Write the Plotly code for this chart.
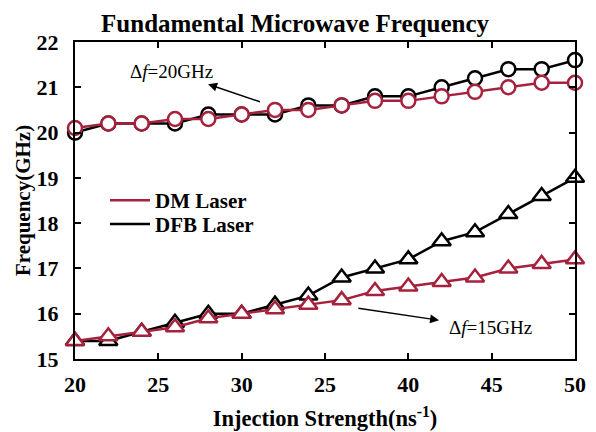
import plotly.graph_objects as go

x_vals = [20, 22, 24, 26, 28, 30, 32, 34, 36, 38, 40, 42, 44, 46, 48, 50]

dm_upper = [20.1, 20.2, 20.2, 20.3, 20.3, 20.4, 20.5, 20.5, 20.6, 20.7, 20.7, 20.8, 20.9, 21.0, 21.1, 21.1]
dfb_upper = [20.0, 20.2, 20.2, 20.2, 20.4, 20.4, 20.4, 20.6, 20.6, 20.8, 20.8, 21.0, 21.2, 21.4, 21.4, 21.6]
dm_lower = [15.4, 15.5, 15.6, 15.7, 15.9, 16.0, 16.1, 16.2, 16.3, 16.5, 16.6, 16.7, 16.8, 17.0, 17.1, 17.2]
dfb_lower = [15.4, 15.4, 15.6, 15.8, 16.0, 16.0, 16.2, 16.4, 16.8, 17.0, 17.2, 17.6, 17.8, 18.2, 18.6, 19.0]

x_tickvals = [20, 25, 30, 35, 40, 45, 50]
x_ticktext = ["20", "25", "30", "25", "40", "45", "50"]
y_tickvals = [15, 16, 17, 18, 19, 20, 21, 22]

RED = "#A6213C"
BLACK = "#000000"
FONT = "Liberation Serif"

fig = go.Figure()

def add_series(y, color, symbol, size):
    fig.add_trace(go.Scatter(
        x=x_vals, y=y, mode="lines+markers",
        line=dict(color=color, width=2.5),
        marker=dict(symbol=symbol, size=size, color="white",
                    line=dict(color=color, width=2.5)),
        showlegend=False, cliponaxis=False,
    ))

add_series(dfb_upper, BLACK, "circle", 14)
add_series(dfb_lower, BLACK, "triangle-up", 16)
add_series(dm_upper, RED, "circle", 14)
add_series(dm_lower, RED, "triangle-up", 16)

fig.add_trace(go.Scatter(x=[None], y=[None], mode="lines", name="DM Laser",
                         line=dict(color=RED, width=2.5), legend="legend"))
fig.add_trace(go.Scatter(x=[None], y=[None], mode="lines", name="DFB Laser",
                         line=dict(color=BLACK, width=2.5), legend="legend2"))

axis_common = dict(
    showline=True, linecolor="black", linewidth=2, mirror="ticks",
    ticks="inside", ticklen=6, tickwidth=2, tickcolor="black",
    showgrid=False, zeroline=False, automargin=False,
    tickfont=dict(family=FONT, size=22, color="black", weight="bold"),
)

legend_common = dict(
    xanchor="left", yanchor="middle", bgcolor="rgba(0,0,0,0)",
    font=dict(family=FONT, size=21, color="black", weight="bold"),
    itemwidth=40,
)

fig.update_layout(
    width=596, height=432,
    margin=dict(l=75, r=21, t=42, b=73),
    plot_bgcolor="white", paper_bgcolor="white",
    font=dict(family=FONT, color="black"),
    title=dict(text="<b>Fundamental Microwave Frequency</b>",
               x=0.495, xanchor="center", y=0.947, yanchor="middle",
               font=dict(family=FONT, size=25, color="black")),
    xaxis=dict(range=[20, 50], tickvals=x_tickvals, ticktext=x_ticktext,
               ticklabelstandoff=5,
               title=dict(text="<b>Injection Strength(ns<sup>-1</sup>)</b>",
                          font=dict(family=FONT, size=22.5, color="black"),
                          standoff=14),
               **axis_common),
    yaxis=dict(range=[15, 22], tickvals=y_tickvals, ticklabelstandoff=10,
               title=dict(text="<b>Frequency(GHz)</b>",
                          font=dict(family=FONT, size=21, color="black"),
                          standoff=0),
               **axis_common),
    legend=dict(x=0.06, y=0.50, **legend_common),
    legend2=dict(x=0.06, y=0.425, **legend_common),
)

# Δf labels with arrows pointing from the curves toward the labels
fig.add_annotation(x=31.1, y=20.68, ax=25.8, ay=21.34, xref="x", yref="y",
                   axref="x", ayref="y", text="Δ<i>f</i>=20GHz", showarrow=True,
                   arrowside="start", arrowhead=2, startarrowhead=2,
                   startarrowsize=1.2, arrowwidth=1.5, arrowcolor="black",
                   startstandoff=1,
                   font=dict(family=FONT, size=19, color="black"))

fig.add_annotation(x=37.0, y=16.12, ax=44.9, ay=15.69, xref="x", yref="y",
                   axref="x", ayref="y", text="Δ<i>f</i>=15GHz", showarrow=True,
                   arrowside="start", arrowhead=2, startarrowhead=2,
                   startarrowsize=1.2, arrowwidth=1.5, arrowcolor="black",
                   startstandoff=8,
                   font=dict(family=FONT, size=19, color="black"))

fig.write_html("out.html")
